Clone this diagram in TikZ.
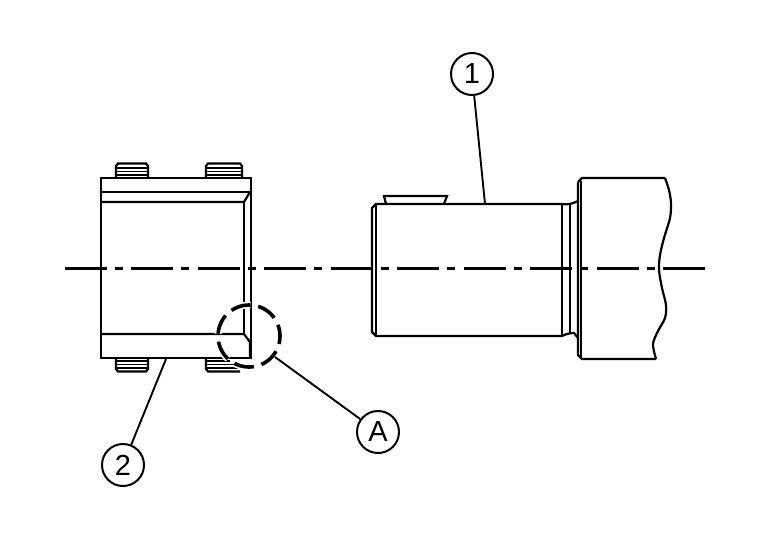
\documentclass[tikz,border=0pt]{standalone}
\usepackage{amsmath}
\usepackage{fontspec}
\setmainfont{Liberation Sans}
\tikzset{
	part/.style={line width=2.2pt,line join=miter},
	thin part/.style={line width=1.5pt},
	center line/.style={line width=2.2pt,dash pattern=on 42pt off 8pt on 8pt off 8.5pt},
	callout/.style={circle,draw,line width=2pt,minimum size=42pt,inner sep=0pt,font=\fontsize{29}{29}\selectfont},
	leader/.style={line width=1.9pt},
	detail/.style={line width=3.6pt,dash pattern=on 20pt off 7.9pt,dash phase=12pt}
}
\begin{document}
\begin{tikzpicture}[x=1pt,y=-1pt]
	\useasboundingbox (0,0) rectangle (768,544);

	\draw [part](101,178) rectangle (251,358);
	\draw [part](101,192)--(251,192);
	\draw [part](101,202)--(244,202)--(250,192);
	\draw [part](244,202)--(244,334);
	\draw [part](101,334)--(244,334)--(250,342)--(250,358);

	\draw [part](116,178)--(116,166)--(118,163.5)--(146,163.5)--(148,166)--(148,178);
	\draw [thin part](116,168)--(148,168);
	\draw [thin part](116,171.5)--(148,171.5);
	\draw [thin part](116,175)--(148,175);
	\draw [part](206,178)--(206,166)--(208,163.5)--(240,163.5)--(242,166)--(242,178);
	\draw [thin part](206,168)--(242,168);
	\draw [thin part](206,171.5)--(242,171.5);
	\draw [thin part](206,175)--(242,175);

	\draw [part](116,358)--(116,369)--(118,371.5)--(146,371.5)--(148,369)--(148,358);
	\draw [thin part](116,361)--(148,361);
	\draw [thin part](116,364.5)--(148,364.5);
	\draw [thin part](116,368)--(148,368);
	\draw [part](206,358)--(206,369)--(208,371.5)--(240,371.5);
	\draw [thin part](206,361)--(230,361);
	\draw [thin part](206,364.5)--(236,364.5);
	\draw [thin part](206,368)--(240,368);

	\draw [part](386,204)--(384,196)--(447,196)--(444,204);

	\draw [part](562,204)--(376,204)--(372,208)--(372,332)--(376,336)--(562,336);
	\draw [part](376,204)--(376,336);
	\draw [part](562,204)--(562,336);
	\draw [part](570,204)--(570,333);
	\draw [part](562,204)..controls (567,205) and (572,204) .. (578,201);
	\draw [part](562,336)..controls (566,334) and (570,333) .. (574,333)--(578,338);
	\draw [part](578,182)--(578,355)--(582,359)--(656,359);
	\draw [part](581,181)--(581,359);
	\draw [part](578,182)--(582,178)--(665,178);
	\draw [part] plot [smooth] coordinates {(665,178) (669,190) (671,203) (670,218) (664,238) (660,255) (659,270) (662,288) (666,305) (665,318) (658,331) (653,344) (656,359)};

	\draw [center line](64.5,268.5)--(706,268.5);

	\draw [white,line width=7pt,dash pattern=on 20pt off 7.9pt,dash phase=12pt](249,336) circle (31);
	\draw [detail](249,336) circle (31);

	\node (one) at (472,74) [callout]{1};
	\node (two) at (123,465) [callout]{2};
	\node (detailA) at (378,432) [callout]{A};
	\coordinate (oneEnd) at (485,204);
	\coordinate (twoEnd) at (166,359);
	\coordinate (detailEnd) at (275,357);
	\draw [leader](one)--(oneEnd);
	\draw [leader](two)--(twoEnd);
	\draw [leader](detailA)--(detailEnd);
\end{tikzpicture}
\end{document}
